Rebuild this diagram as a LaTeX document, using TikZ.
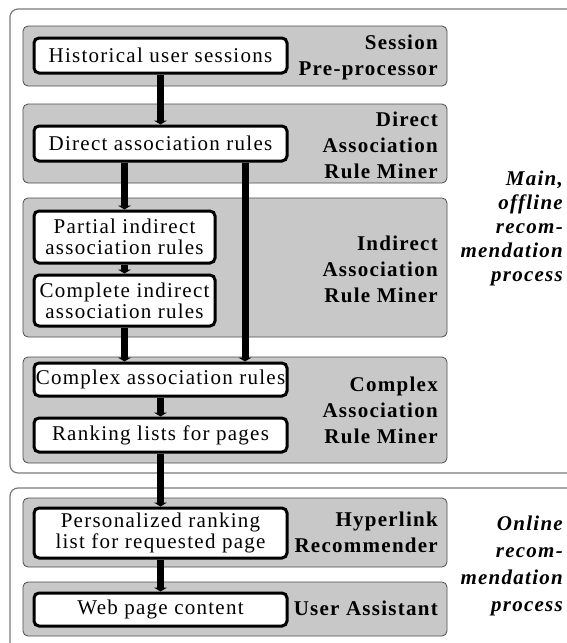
\documentclass[tikz,border=0pt]{standalone}
\usepackage{fontspec}
\setmainfont{Liberation Serif}[LetterSpace=6]
\usetikzlibrary{arrows.meta}
\definecolor{panelgrey}{HTML}{C8C8C8}
\definecolor{frameline}{HTML}{7A7A7A}
\begin{document}
\begin{tikzpicture}[x=1pt,y=-1pt,
  frame/.style={draw=frameline,line width=1.2pt,rounded corners=8pt},
  panel/.style={draw=black!70,line width=0.8pt,fill=panelgrey,rounded corners=5pt},
  item/.style={draw=black,line width=3pt,fill=white,rounded corners=5pt,inner sep=0pt,
    align=center,font=\fontsize{21}{21}\selectfont},
  role/.style={anchor=east,align=right,inner sep=0pt,font=\fontsize{21}{26}\selectfont\bfseries},
  phase/.style={anchor=east,align=right,inner sep=0pt,font=\fontsize{21}{24}\selectfont\bfseries\itshape},
  flow/.style={line width=7pt,-{Triangle[length=4pt,width=13pt]}}]
\useasboundingbox (0,0) rectangle (567,643);
\clip (0,0) rectangle (567,643);

% outer process frames (open to the right / bottom)
\draw[frame] (10,9) rectangle (600,473);
\draw[frame] (10,488) rectangle (600,680);

% component panels
\draw[panel] (23,26) rectangle (447,86);
\draw[panel] (23,104) rectangle (447,183);
\draw[panel] (23,198) rectangle (447,337);
\draw[panel] (23,357) rectangle (447,463);
\draw[panel] (23,498) rectangle (447,567);
\draw[panel] (23,582) rectangle (447,636);

% component names
\node[role] (rsess) at (438,57) {Session\\Pre-processor};
\node[role] (rdir) at (438,145) {Direct\\Association\\Rule Miner};
\node[role] (rind) at (438,269) {Indirect\\Association\\Rule Miner};
\node[role] (rcpx) at (438,410) {Complex\\Association\\Rule Miner};
\node[role] (rhyp) at (438,532) {Hyperlink\\Recommender};
\node[role] (rua) at (438,608) {User Assistant};

% process names
\node[phase] (poff) at (563,228) {Main,\\offline\\recom-\\mendation\\process};
\node[phase,font=\fontsize{21}{27}\selectfont\bfseries\itshape] (pon) at (563,566) {Online\\recom-\\mendation\\process};

% data items
\node[item,minimum width=253,minimum height=35] (hist) at (160.5,55.5) {Historical user sessions};
\node[item,minimum width=253,minimum height=35] (dar) at (160.5,143.5) {Direct association rules};
\node[item,minimum width=181,minimum height=52] (pia) at (124.5,237) {Partial indirect\\association rules};
\node[item,minimum width=181,minimum height=51] (cia) at (124.5,300.5) {Complete indirect\\association rules};
\node[item,minimum width=253,minimum height=33] (cx) at (160.5,379.5) {Complex association rules};
\node[item,minimum width=253,minimum height=34] (rank) at (160.5,435) {Ranking lists for pages};
\node[item,minimum width=253,minimum height=50] (pers) at (160.5,533) {Personalized ranking\\list for requested page};
\node[item,minimum width=253,minimum height=33] (web) at (160.5,609.5) {Web page content};

% data flow
\draw[flow] (hist.south) -- (dar.north);
\draw[flow] (dar.south -| pia.north) -- (pia.north);
\draw[flow] ([xshift=84.5pt]dar.south) -- ([xshift=84.5pt]cx.north);
\draw[flow] (pia.south) -- (cia.north);
\draw[flow] (cia.south) -- (cia.south |- cx.north);
\draw[flow] (cx.south) -- (rank.north);
\draw[flow] (rank.south) -- (pers.north);
\draw[flow] (pers.south) -- (web.north);
\end{tikzpicture}
\end{document}
